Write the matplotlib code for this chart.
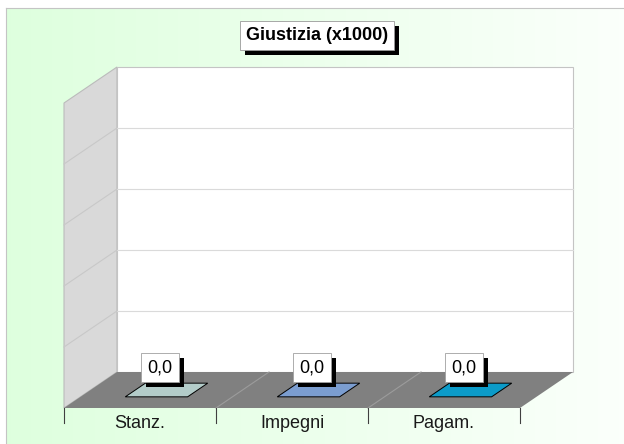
import numpy as np
import matplotlib
matplotlib.use("Agg")
import matplotlib.pyplot as plt
from matplotlib.patches import Polygon
from matplotlib import patheffects as pe

plt.rcParams["font.family"] = ["Liberation Sans", "DejaVu Sans"]

# chart data
title = "Giustizia (x1000)"
categories = ["Stanz.", "Impegni", "Pagam."]
values = [0.0, 0.0, 0.0]
bar_colors = ["#B3CCC9", "#7B9DD0", "#0B9BC9"]
y_max = 1.0
grid_step = 0.2

# layout (pixels)
W, H = 624, 444
X0, Y0 = 64, 408          # front-left corner of the floor
CAT_PX = 152              # pixels per category
VAL_PX = 305 / y_max      # pixels per value unit
DEPTH_PX = (53, 36)       # 3d depth offset

fig = plt.figure(figsize=(W / 100, H / 100), dpi=100, facecolor="white")

# green gradient panel
bg = fig.add_axes([6 / W, 0, 1 - 6 / W, (H - 8) / H])
grad = np.linspace(0, 1, 256)[None, :, None]
c_left = np.array([0.87, 1.0, 0.87])
c_right = np.array([0.985, 1.0, 0.985])
bg.imshow(c_left + (c_right - c_left) * grad, aspect="auto", extent=(0, 1, 0, 1))
bg.set_xlim(0, 1)
bg.set_ylim(0, 1)
bg.set_xticks([])
bg.set_yticks([])
for s in ["right", "bottom"]:
    bg.spines[s].set_visible(False)
for s in ["left", "top"]:
    bg.spines[s].set_color("#C4C4C4")

# chart axes in data units (category, value), depth added by proj()
ax = fig.add_axes([0, 0, 1, 1])
ax.set_xlim(-0.5 - X0 / CAT_PX, -0.5 + (W - X0) / CAT_PX)
ax.set_ylim(-(H - Y0) / VAL_PX, Y0 / VAL_PX)
ax.axis("off")
ax.patch.set_alpha(0)

dx = DEPTH_PX[0] / CAT_PX
dy = DEPTH_PX[1] / VAL_PX


def proj(x, y, z):
    return x + z * dx, y + z * dy


def face(pts, **kw):
    ax.add_patch(Polygon([proj(*p) for p in pts], closed=True, **kw))


def seg(p, q, **kw):
    a, b = proj(*p), proj(*q)
    ax.plot([a[0], b[0]], [a[1], b[1]], **kw)


n = len(categories)
xl, xr = -0.5, n - 0.5

# walls and floor
face([(xl, 0, 0), (xl, 0, 1), (xl, y_max, 1), (xl, y_max, 0)], fc="#D9D9D9", ec="#BBBBBB", lw=0.8)
face([(xl, 0, 1), (xr, 0, 1), (xr, y_max, 1), (xl, y_max, 1)], fc="white", ec="#C4C4C4", lw=0.8)
face([(xl, 0, 0), (xr, 0, 0), (xr, 0, 1), (xl, 0, 1)], fc="#808080", ec="none")

grid_values = np.round(np.arange(grid_step, y_max, grid_step), 6)
for v in grid_values:
    seg((xl, v, 0), (xl, v, 1), color="#C8C8C8", lw=0.8)
    seg((xl, v, 1), (xr, v, 1), color="#DADADA", lw=0.8)

for b in np.arange(xl + 1, xr):
    seg((b, 0, 0), (b, 0, 1), color="#9C9C9C", lw=0.8)

tick_len = 15 / VAL_PX
for b in np.arange(xl, xr + 1):
    ax.plot([b, b], [0, -tick_len], color="#404040", lw=0.8)

# bars
bar_w = 0.41
z0, z1 = 0.31, 0.69
for i, (v, c) in enumerate(zip(values, bar_colors)):
    a, b = i - bar_w / 2, i + bar_w / 2
    if v > 0:
        face([(a, 0, z0), (b, 0, z0), (b, v, z0), (a, v, z0)], fc=c, ec="black", lw=0.7)
        face([(b, 0, z0), (b, 0, z1), (b, v, z1), (b, v, z0)], fc=c, ec="black", lw=0.7)
    face([(a, v, z0), (b, v, z0), (b, v, z1), (a, v, z1)], fc=c, ec="black", lw=0.7)

shadow = [pe.withSimplePatchShadow(offset=(3.5, -3.5), shadow_rgbFace="black", alpha=1)]

for i, v in enumerate(values):
    ax.annotate(f"{v:.1f}".replace(".", ","), proj(i, v, 0.38), xytext=(0, 19.3),
                textcoords="offset points", ha="center", va="center", fontsize=13,
                bbox=dict(boxstyle="square,pad=0.34", fc="white", ec="#A0A0A0", lw=0.6,
                          path_effects=shadow))

for i, name in enumerate(categories):
    ax.annotate(name, proj(i, 0, 0), xytext=(0, -5), textcoords="offset points",
                ha="center", va="top", fontsize=13, color="#1A1A1A")

fig.text(317 / W, 1 - 35.5 / H, title, ha="center", va="center", fontsize=13,
         fontweight="bold",
         bbox=dict(boxstyle="square,pad=0.32", fc="white", ec="#9A9A9A", lw=0.6,
                   path_effects=shadow))

fig.savefig("out.png", dpi=100)
